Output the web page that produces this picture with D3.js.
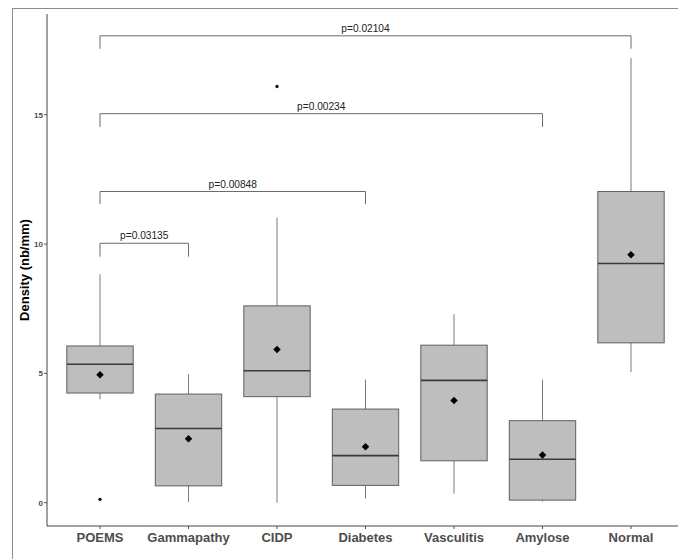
<!DOCTYPE html>
<html>
<head>
<meta charset="utf-8">
<script src="https://cdn.jsdelivr.net/npm/d3@7"></script>
<style>
html,body{margin:0;padding:0;background:#fff;}
svg{display:block;}
</style>
</head>
<body>
<svg id="chart" width="678" height="559"></svg>
<script>
const categories = ["POEMS","Gammapathy","CIDP","Diabetes","Vasculitis","Amylose","Normal"];
const q1       = [4.24, 0.65, 4.10, 0.67, 1.62, 0.10, 6.18];
const medians  = [5.35, 2.87, 5.10, 1.82, 4.73, 1.68, 9.25];
const q3       = [6.06, 4.20, 7.61, 3.62, 6.09, 3.17, 12.03];
const whiskLo  = [4.00, 0.02, 0.00, 0.16, 0.35, 0.04, 5.05];
const whiskHi  = [8.83, 4.96, 11.02, 4.76, 7.29, 4.76, 17.19];
const means    = [4.95, 2.47, 5.92, 2.16, 3.95, 1.84, 9.59];
const outliers = [["POEMS",0.13],["CIDP",16.09]];
const yTicks   = [0,5,10,15];
const comparisons = [
  {from:"POEMS", to:"Gammapathy", y:10.03, tip:9.51,  label:"p=0.03135"},
  {from:"POEMS", to:"Diabetes",   y:12.03, tip:11.54, label:"p=0.00848"},
  {from:"POEMS", to:"Amylose",    y:15.04, tip:14.53, label:"p=0.00234"},
  {from:"POEMS", to:"Normal",     y:18.05, tip:17.55, label:"p=0.02104"}
];

const svg = d3.select("#chart");

// outer frame (top and left edges)
svg.append("line").attr("x1",12).attr("x2",678).attr("y1",8.5).attr("y2",8.5).attr("stroke","#8c8c8c").attr("stroke-width",1);
svg.append("line").attr("x1",12.5).attr("x2",12.5).attr("y1",8).attr("y2",559).attr("stroke","#8c8c8c").attr("stroke-width",1);

const x = d3.scalePoint().domain(categories).range([100, 631]);
const step = x.step();
const bw = step * 0.75;
const y = d3.scaleLinear().domain([0, 15]).range([502.7, 114.7]);

const axisLeft = 47, axisBottom = 526;

// axes lines
svg.append("line").attr("x1",axisLeft).attr("x2",axisLeft).attr("y1",14).attr("y2",axisBottom).attr("stroke","#444").attr("stroke-width",1);
svg.append("line").attr("x1",axisLeft).attr("x2",678).attr("y1",axisBottom).attr("y2",axisBottom).attr("stroke","#444").attr("stroke-width",1);

// y ticks
const yAxis = svg.append("g");
yTicks.forEach(t => {
  yAxis.append("line").attr("x1",axisLeft-3).attr("x2",axisLeft).attr("y1",y(t)).attr("y2",y(t)).attr("stroke","#555");
  yAxis.append("text").attr("x",axisLeft-4).attr("y",y(t)).attr("dy","0.35em")
    .attr("text-anchor","end").attr("font-family","Liberation Sans, Arial, sans-serif")
    .attr("font-size",8).attr("font-weight","bold").attr("fill","#4d4d4d").text(t);
});

// x ticks
const xAxis = svg.append("g");
categories.forEach(c => {
  xAxis.append("line").attr("x1",x(c)).attr("x2",x(c)).attr("y1",axisBottom).attr("y2",axisBottom+3).attr("stroke","#555");
  xAxis.append("text").attr("x",x(c)).attr("y",541.5).attr("text-anchor","middle")
    .attr("font-family","Liberation Sans, Arial, sans-serif").attr("font-size",13)
    .attr("font-weight","bold").attr("fill","#4d4d4d").text(c);
});

// y title
svg.append("text").attr("transform","translate(29,270) rotate(-90)").attr("text-anchor","middle")
  .attr("font-family","Liberation Sans, Arial, sans-serif").attr("font-size",13).attr("font-weight","bold")
  .attr("fill","#000").text("Density (nb/mm)");

// boxes
const g = svg.append("g");
categories.forEach((c,i) => {
  const cx = x(c);
  g.append("line").attr("x1",cx).attr("x2",cx).attr("y1",y(q3[i])).attr("y2",y(whiskHi[i])).attr("stroke","#7a7a7a").attr("stroke-width",1);
  g.append("line").attr("x1",cx).attr("x2",cx).attr("y1",y(q1[i])).attr("y2",y(whiskLo[i])).attr("stroke","#7a7a7a").attr("stroke-width",1);
  g.append("rect").attr("x",cx-bw/2).attr("y",y(q3[i])).attr("width",bw).attr("height",y(q1[i])-y(q3[i]))
    .attr("fill","#bebebe").attr("stroke","#5f5f5f").attr("stroke-width",1);
  g.append("line").attr("x1",cx-bw/2).attr("x2",cx+bw/2).attr("y1",y(medians[i])).attr("y2",y(medians[i]))
    .attr("stroke","#3a3a3a").attr("stroke-width",1.6);
});

// outliers
outliers.forEach(([c,v]) => {
  g.append("circle").attr("cx",x(c)).attr("cy",y(v)).attr("r",1.7).attr("fill","#111");
});

// means (diamonds)
const diamond = d3.symbol().type(d3.symbolDiamond2 || d3.symbolDiamond).size(50);
categories.forEach((c,i) => {
  g.append("path").attr("d", d3.symbol().type(d3.symbolSquare).size(28)())
    .attr("transform",`translate(${x(c)},${y(means[i])}) rotate(45)`).attr("fill","#000");
});

// comparisons
const cg = svg.append("g");
comparisons.forEach(cmp => {
  const x1 = x(cmp.from), x2 = x(cmp.to);
  cg.append("path").attr("d",`M${x1},${y(cmp.tip)}L${x1},${y(cmp.y)}L${x2},${y(cmp.y)}L${x2},${y(cmp.tip)}`)
    .attr("fill","none").attr("stroke","#6a6a6a").attr("stroke-width",1);
  cg.append("text").attr("x",(x1+x2)/2).attr("y",y(cmp.y)-4).attr("text-anchor","middle")
    .attr("font-family","Liberation Sans, Arial, sans-serif").attr("font-size",10.2).attr("fill","#222").text(cmp.label);
});
</script>
</body>
</html>
